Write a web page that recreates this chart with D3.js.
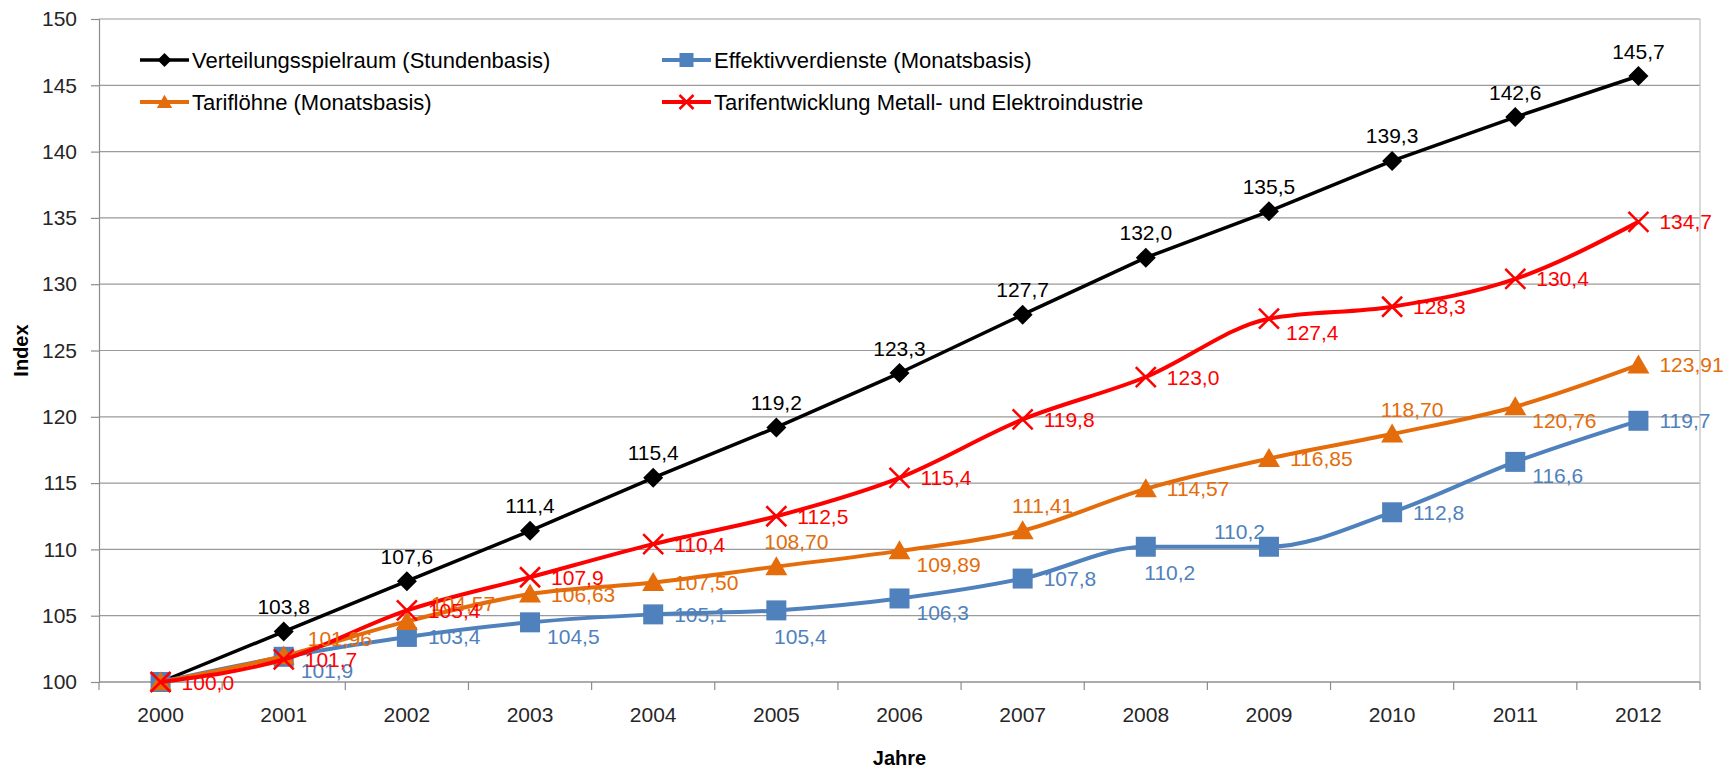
<!DOCTYPE html>
<html>
<head>
<meta charset="utf-8">
<script src="https://cdn.jsdelivr.net/npm/d3@7"></script>
<style>
  body { margin: 0; background: #fff; }
  svg text { font-family: "Liberation Sans", Arial, sans-serif; }
</style>
</head>
<body>
<svg id="chart"></svg>
<script>
// categories and series (index 2000 = 100)
var years = ["2000", "2001", "2002", "2003", "2004", "2005", "2006", "2007", "2008", "2009", "2010", "2011", "2012"];
var verteilung = [100.0, 103.8, 107.6, 111.4, 115.4, 119.2, 123.3, 127.7, 132.0, 135.5, 139.3, 142.6, 145.7];
var effektiv = [100.0, 101.9, 103.4, 104.5, 105.1, 105.4, 106.3, 107.8, 110.2, 110.2, 112.8, 116.6, 119.7];
var tarifloehne = [100.0, 101.96, 104.57, 106.63, 107.50, 108.70, 109.89, 111.41, 114.57, 116.85, 118.70, 120.76, 123.91];
var metall = [100.0, 101.7, 105.4, 107.9, 110.4, 112.5, 115.4, 119.8, 123.0, 127.4, 128.3, 130.4, 134.7];
var yTicks = [100, 105, 110, 115, 120, 125, 130, 135, 140, 145, 150];

// where each data label sits relative to its marker
var posBlack  = ["", "a", "a", "a", "a", "a", "a", "a", "a", "a", "a", "a", "a"];
var posBlue   = ["", "rb", "r", "rb", "r", "b", "rb", "r", "b", "al", "r", "rb", "r"];
var posOrange = ["", "ar", "ar", "r", "r", "a2", "rb", "a2", "r", "r", "a2", "rb", "r"];
var posRed    = ["r", "r", "r", "r", "r", "r", "r", "r", "r", "rb", "r", "r", "r"];

var series = [
  { name: "Verteilungsspielraum (Stundenbasis)", values: verteilung, color: "#000000", labelColor: "#000000", marker: "diamond", width: 3.5, dec: 1, pos: posBlack, smooth: false },
  { name: "Effektivverdienste (Monatsbasis)", values: effektiv, color: "#4F81BD", labelColor: "#4F81BD", marker: "square", width: 4, dec: 1, pos: posBlue, smooth: true },
  { name: "Tariflöhne (Monatsbasis)", values: tarifloehne, color: "#E46C0A", labelColor: "#E46C0A", marker: "triangle", width: 4, dec: 2, pos: posOrange, smooth: true },
  { name: "Tarifentwicklung Metall- und Elektroindustrie", values: metall, color: "#FF0000", labelColor: "#FF0000", marker: "cross", width: 4, dec: 1, pos: posRed, smooth: true }
];

var svgWidth = 1730, svgHeight = 768;
var margin = { top: 19, right: 30, bottom: 86, left: 99 };
var width = svgWidth - margin.left - margin.right;
var height = svgHeight - margin.top - margin.bottom;

var svg = d3.select("#chart")
    .attr("width", svgWidth)
    .attr("height", svgHeight);

var g = svg.append("g")
    .attr("transform", "translate(" + margin.left + "," + margin.top + ")");

var x = d3.scaleBand()
    .domain(years)
    .range([0, width]);

var y = d3.scaleLinear()
    .domain([100, 150])
    .range([height, 0]);

function cx(i) { return x(years[i]) + x.bandwidth() / 2; }
function fmt(v, dec) { return v.toFixed(dec).replace(".", ","); }

// gridlines
g.append("g")
    .selectAll("line")
    .data(yTicks)
    .enter()
    .append("line")
    .attr("x1", 0)
    .attr("x2", width)
    .attr("y1", function(d) { return y(d); })
    .attr("y2", function(d) { return y(d); })
    .attr("stroke", "#9a9a9a")
    .attr("stroke-width", 1.2);

// right border
g.append("line")
    .attr("x1", width).attr("x2", width)
    .attr("y1", 0).attr("y2", height)
    .attr("stroke", "#c0c0c0")
    .attr("stroke-width", 1.2);

// y axis
var yAxis = g.append("g")
    .call(d3.axisLeft(y).tickValues(yTicks).tickSize(8).tickPadding(14).tickFormat(d3.format("d")));
yAxis.select(".domain").attr("stroke", "#8c8c8c").attr("stroke-width", 1.2);
yAxis.selectAll(".tick line").attr("stroke", "#8c8c8c").attr("stroke-width", 1.2);
yAxis.selectAll("text")
    .attr("font-size", 21)
    .attr("fill", "#262626")
    .attr("font-family", "Liberation Sans, Arial, sans-serif");

// x axis: ticks between categories
var xAxis = g.append("g")
    .attr("transform", "translate(0," + height + ")");
xAxis.append("line")
    .attr("x1", 0).attr("x2", width)
    .attr("stroke", "#8c8c8c")
    .attr("stroke-width", 1.2);
xAxis.selectAll(".tk")
    .data(years.concat(["end"]))
    .enter()
    .append("line")
    .attr("class", "tk")
    .attr("x1", function(d, i) { return i * x.bandwidth(); })
    .attr("x2", function(d, i) { return i * x.bandwidth(); })
    .attr("y1", 0)
    .attr("y2", 8)
    .attr("stroke", "#8c8c8c")
    .attr("stroke-width", 1.2);
xAxis.selectAll(".lbl")
    .data(years)
    .enter()
    .append("text")
    .attr("class", "lbl")
    .attr("x", function(d) { return x(d) + x.bandwidth() / 2; })
    .attr("y", 32)
    .attr("text-anchor", "middle")
    .attr("dominant-baseline", "central")
    .attr("font-size", 21)
    .attr("fill", "#262626")
    .text(function(d) { return d; });

// axis titles
svg.append("text")
    .attr("transform", "translate(21," + (margin.top + height / 2) + ") rotate(-90)")
    .attr("text-anchor", "middle")
    .attr("dominant-baseline", "central")
    .attr("font-size", 20)
    .attr("font-weight", "bold")
    .attr("fill", "#000")
    .text("Index");

svg.append("text")
    .attr("x", margin.left + width / 2)
    .attr("y", 758)
    .attr("text-anchor", "middle")
    .attr("dominant-baseline", "central")
    .attr("font-size", 20)
    .attr("font-weight", "bold")
    .attr("fill", "#000")
    .text("Jahre");

// marker drawing
function drawMarker(sel, type, color, s) {
    if (type === "diamond") {
        sel.append("path")
            .attr("d", "M0," + (-s) + "L" + s + ",0L0," + s + "L" + (-s) + ",0Z")
            .attr("fill", color);
    } else if (type === "square") {
        sel.append("rect")
            .attr("x", -s).attr("y", -s)
            .attr("width", 2 * s).attr("height", 2 * s)
            .attr("fill", color);
    } else if (type === "triangle") {
        sel.append("path")
            .attr("d", "M0," + (-s * 1.05) + "L" + (s * 1.1) + "," + (s * 0.85) + "L" + (-s * 1.1) + "," + (s * 0.85) + "Z")
            .attr("fill", color);
    } else {
        sel.append("path")
            .attr("d", "M" + (-s) + "," + (-s) + "L" + s + "," + s + "M" + s + "," + (-s) + "L" + (-s) + "," + s)
            .attr("stroke", color)
            .attr("stroke-width", 2.5)
            .attr("fill", "none");
    }
}
var markerSize = { diamond: 10, square: 10, triangle: 10, cross: 10 };

// lines and markers
series.forEach(function(s) {
    var line = d3.line()
        .x(function(d, i) { return cx(i); })
        .y(function(d) { return y(d); })
        .curve(s.smooth ? d3.curveMonotoneX : d3.curveLinear);

    g.append("path")
        .datum(s.values)
        .attr("fill", "none")
        .attr("stroke", s.color)
        .attr("stroke-width", s.width)
        .attr("stroke-linejoin", "round")
        .attr("d", line);

    g.append("g")
        .selectAll("g")
        .data(s.values)
        .enter()
        .append("g")
        .attr("transform", function(d, i) { return "translate(" + cx(i) + "," + y(d) + ")"; })
        .each(function() { drawMarker(d3.select(this), s.marker, s.color, markerSize[s.marker]); });
});

// data labels
var place = {
    a:  { anchor: "middle", dx: 0,  dy: -25 },
    a2: { anchor: "middle", dx: 20, dy: -25 },
    ar: { anchor: "start",  dx: 24, dy: -18 },
    r:  { anchor: "start",  dx: 21, dy: 0 },
    rb: { anchor: "start",  dx: 17, dy: 14 },
    b:  { anchor: "middle", dx: 24, dy: 26 },
    al: { anchor: "end",    dx: -4, dy: -15 }
};

series.forEach(function(s) {
    var lab = g.append("g");
    s.values.forEach(function(d, i) {
        if (s.pos[i] === "") return;
        var p = place[s.pos[i]];
        lab.append("text")
            .attr("x", cx(i) + p.dx)
            .attr("y", y(d) + p.dy)
            .attr("text-anchor", p.anchor)
            .attr("dominant-baseline", "central")
            .attr("font-size", 21)
            .attr("fill", s.labelColor)
            .text(fmt(d, s.dec));
    });
});

// legend
var legendItems = [
    { s: series[0], lx: 140, ly: 60 },
    { s: series[1], lx: 662, ly: 60 },
    { s: series[2], lx: 140, ly: 102 },
    { s: series[3], lx: 662, ly: 102 }
];
var legend = svg.append("g");
legendItems.forEach(function(item) {
    var lg = legend.append("g")
        .attr("transform", "translate(" + item.lx + "," + item.ly + ")");
    lg.append("line")
        .attr("x1", 0).attr("x2", 49)
        .attr("stroke", item.s.color)
        .attr("stroke-width", item.s.width);
    var m = lg.append("g").attr("transform", "translate(24.5,0)");
    drawMarker(m, item.s.marker, item.s.color, 7);
    lg.append("text")
        .attr("x", 52)
        .attr("dominant-baseline", "central")
        .attr("font-size", 22)
        .attr("fill", "#000")
        .text(item.s.name);
});
</script>
</body>
</html>
